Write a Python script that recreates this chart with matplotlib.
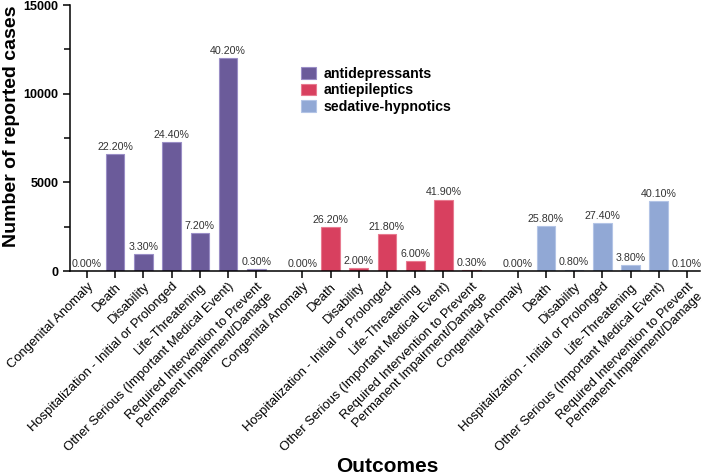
import matplotlib
matplotlib.use("Agg")
import matplotlib.pyplot as plt
from matplotlib.patches import Patch
from matplotlib.ticker import MultipleLocator
import numpy as np

plt.rcParams['font.family'] = ['Liberation Sans', 'DejaVu Sans']

outcomes = ["Congenital Anomaly", "Death", "Disability",
            "Hospitalization - Initial or Prolonged", "Life-Threatening",
            "Other Serious (Important Medical Event)",
            "Required Intervention to Prevent\nPermanent Impairment/Damage"]
groups = ["antidepressants", "antiepileptics", "sedative-hypnotics"]
antidepressants = [0, 6600, 960, 7270, 2120, 12010, 90]
antiepileptics = [0, 2500, 190, 2095, 550, 4025, 29]
sedative_hypnotics = [0, 2545, 78, 2695, 355, 3935, 10]
pct_antidepressants = ["0.00%", "22.20%", "3.30%", "24.40%", "7.20%", "40.20%", "0.30%"]
pct_antiepileptics = ["0.00%", "26.20%", "2.00%", "21.80%", "6.00%", "41.90%", "0.30%"]
pct_sedative = ["0.00%", "25.80%", "0.80%", "27.40%", "3.80%", "40.10%", "0.10%"]

series = [antidepressants, antiepileptics, sedative_hypnotics]
pcts = [pct_antidepressants, pct_antiepileptics, pct_sedative]
colors = ["#6B5B9A", "#D8405F", "#91A8D5"]
edges = ["#9A8EC6", "#E87A90", "#B3C4E6"]

fig = plt.figure(figsize=(7.08, 4.76), dpi=100)
ax = fig.add_axes([70/708, 1-271/476, 630/708, 266/476])

group_offset = 7.63
width = 0.66
all_x = []
all_labels = []
for g, (vals, pc, c, ec) in enumerate(zip(series, pcts, colors, edges)):
    x = np.arange(len(outcomes)) + g*group_offset
    ax.bar(x, vals, width=width, color=c, edgecolor=ec, linewidth=0.8)
    for xi, v, p in zip(x, vals, pc):
        ax.text(xi, v + 120, p, ha='center', va='bottom', fontsize=7.7, color='#333333')
    all_x.extend(x)
    all_labels.extend(outcomes)

ax.set_xticks(all_x)
ax.set_xticklabels(all_labels, rotation=45, ha='right', va='top',
                   rotation_mode='anchor', fontsize=9.4, multialignment='right')
ax.set_xlim(-0.6, 21.72)
ax.set_ylim(0, 15000)
ax.yaxis.set_major_locator(MultipleLocator(5000))
ax.yaxis.set_minor_locator(MultipleLocator(2500))
for lab in ax.get_yticklabels():
    lab.set_fontweight('bold')
ax.tick_params(axis='y', which='major', labelsize=9, length=5, width=1.1)
ax.tick_params(axis='y', which='minor', length=4, width=1.1)
ax.tick_params(axis='x', length=5, width=1.1, pad=2)

for s in ['top', 'right']:
    ax.spines[s].set_visible(False)
for s in ['left', 'bottom']:
    ax.spines[s].set_linewidth(1.1)

ax.set_ylabel("Number of reported cases", fontsize=14, fontweight='bold')
ax.yaxis.set_label_coords(-50/630, 0.545)
fig.text(387/708, 0.5/476, "Outcomes", fontsize=15, fontweight='bold',
         ha='center', va='bottom')

handles = [Patch(facecolor=c, edgecolor=ec, linewidth=0.8) for c, ec in zip(colors, edges)]
ax.legend(handles, groups, loc='upper left', bbox_to_anchor=(0.367, 0.767),
          frameon=False, borderpad=0, borderaxespad=0, handlelength=1.06,
          handleheight=0.85, handletextpad=0.5, labelspacing=0.17,
          prop={'weight': 'bold', 'size': 10.2})

fig.savefig("out.png", dpi=100)
